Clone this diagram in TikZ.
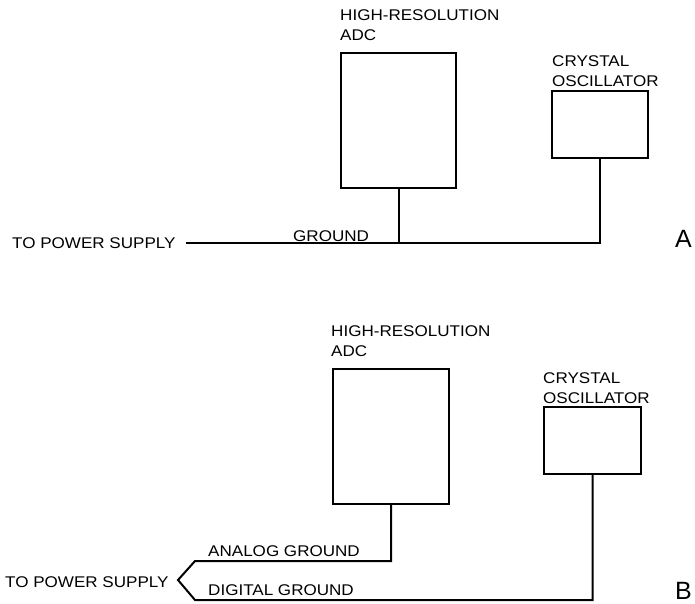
\documentclass[tikz,border=0pt]{standalone}
\usepackage{fontspec}
\setmainfont{Liberation Sans}[FakeStretch=1.1]
\newfontfamily\plainsans{Liberation Sans}
\begin{document}
\begin{tikzpicture}[x=1pt,y=-1pt,
  wire/.style={line width=2pt,line join=miter},
  blk/.style={draw,line width=2pt,inner sep=0pt,anchor=north west},
  lbl/.style={inner sep=0pt,align=left,anchor=north west,font=\fontsize{15.5}{20}\selectfont},
  txt/.style={inner sep=0pt,anchor=base west,font=\fontsize{15.5}{20}\selectfont},
  big/.style={inner sep=0pt,anchor=base west,font=\plainsans\fontsize{25}{30}\selectfont}]
\useasboundingbox (0,0) rectangle (695,603);
% ---------- A ----------
\node[lbl] (adcAl) at (340,9) {HIGH-RESOLUTION\\ADC};
\node[blk,minimum width=115pt,minimum height=135pt] (adcA) at (340,52) {};
\node[lbl] (xoAl) at (552,55) {CRYSTAL\\OSCILLATOR};
\node[blk,minimum width=96pt,minimum height=67pt] (xoA) at (551,90) {};
\node[txt] (psA) at (12,248) {TO POWER SUPPLY};
\node[txt] (gndA) at (293,241) {GROUND};
\node[big] (labA) at (675,247) {A};
\coordinate (startA) at (186,243);
\coordinate (jA) at (adcA.south |- startA);
\coordinate (eA) at (xoA.south |- startA);
\draw[wire] (startA) -- (eA) -- (xoA.south);
\draw[wire] (adcA.south) -- (jA);
% ---------- B ----------
\node[lbl] (adcBl) at (331,325) {HIGH-RESOLUTION\\ADC};
\node[blk,minimum width=116pt,minimum height=135pt] (adcB) at (332,368) {};
\node[lbl] (xoBl) at (543,372) {CRYSTAL\\OSCILLATOR};
\node[blk,minimum width=97pt,minimum height=67pt] (xoB) at (543,406) {};
\node[txt] (psB) at (5,587) {TO POWER SUPPLY};
\node[txt] (agnd) at (208,556) {ANALOG GROUND};
\node[txt] (dgnd) at (208,595) {DIGITAL GROUND};
\node[big] (labB) at (675,599) {B};
\coordinate (apex) at (178,580);
\coordinate (aL) at (195,561);
\coordinate (dL) at (195,600);
\coordinate (aR) at (adcB.south |- aL);
\coordinate (dR) at (xoB.south |- dL);
\draw[wire] (adcB.south) -- (aR) -- (aL) -- (apex) -- (dL) -- (dR) -- (xoB.south);
\end{tikzpicture}
\end{document}
